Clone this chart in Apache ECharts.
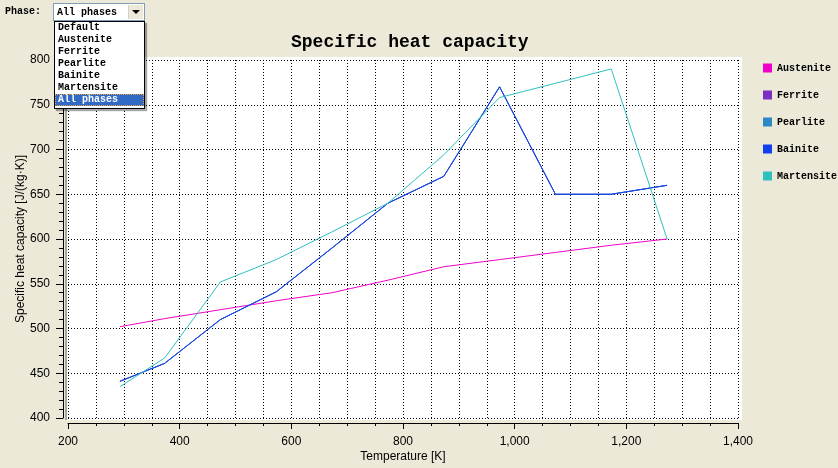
<!DOCTYPE html>
<html>
<head>
<meta charset="utf-8">
<script src="https://cdn.jsdelivr.net/npm/echarts@6/dist/echarts.min.js"></script>
<style>
  html, body { margin: 0; padding: 0; background: #ECE9D8; }
  .wrap { position: relative; width: 838px; height: 468px; overflow: hidden; }
  .plot-bg {
    position: absolute; left: 65px; top: 57px; width: 675px; height: 363px;
    background: #fff; border-left: 2px solid #A7A69C;
  }
  #chart { position: absolute; left: 0; top: 0; width: 838px; height: 468px; }
  .mono { font-family: "Liberation Mono", "DejaVu Sans Mono", monospace; font-size: 10px; font-weight: bold; color: #000; }
  .phase-label { position: absolute; left: 5px; top: 6px; }
  .select {
    position: absolute; left: 53px; top: 3px; width: 90px; height: 16px;
    background: #fff; border: 1px solid #7F9DB9;
  }
  .select .value { position: absolute; left: 3px; top: 3px; }
  .select .btn {
    position: absolute; right: 1px; top: 1px; width: 14px; height: 14px;
    background: #ECE9D8; border-left: 1px solid #D4D0C8;
  }
  .select .btn:after {
    content: ""; position: absolute; left: 3px; top: 5px;
    border-left: 4px solid transparent; border-right: 4px solid transparent; border-top: 4px solid #000;
  }
  .list {
    position: absolute; left: 54px; top: 21px; width: 89px; height: 86px;
    background: #fff; border: 1px solid #000; box-shadow: 2px 2px 1px rgba(0,0,0,0.35);
  }
  .list div { height: 12px; line-height: 12px; padding-left: 3px; }
  .list div.sel { background: #316AC5; color: #fff; outline: 1px dotted #E8A040; outline-offset: -1px; }
</style>
</head>
<body>
<div class="wrap">
  <div class="plot-bg"></div>
  <div id="chart"></div>
  <div class="mono phase-label">Phase:</div>
  <div class="select mono"><span class="value">All phases</span><span class="btn"></span></div>
  <div class="list mono" id="list"></div>
</div>
<script>
// temperatures [K]
const temps = [293, 373, 473, 573, 673, 773, 873, 973, 1073, 1173, 1273];
// specific heat capacity [J/(kg·K)]
const austenite  = [502, 511, 521, 531, 540, 554, 569, 577, 585, 593, 600];
const ferrite    = [441, 461, 510, 541, 590, 640, 670, 770, 650, 650, 660];
const pearlite   = [441, 461, 510, 541, 590, 640, 670, 770, 650, 650, 660];
const bainite    = [441, 461, 510, 541, 590, 640, 670, 770, 650, 650, 660];
const martensite = [435, 467, 552, 577, 608, 640, 694, 758, 774, 790, 600];

const phaseNames = ["Austenite", "Ferrite", "Pearlite", "Bainite", "Martensite"];
const phaseColors = ["#F000C8", "#7B30C0", "#2E88C4", "#1040F0", "#2EC0C0"];
const menuItems = ["Default", "Austenite", "Ferrite", "Pearlite", "Bainite", "Martensite", "All phases"];

const list = document.getElementById("list");
menuItems.forEach((m, i) => {
  const d = document.createElement("div");
  d.textContent = m;
  if (i === menuItems.length - 1) d.className = "sel";
  list.appendChild(d);
});

const seriesValues = [austenite, ferrite, pearlite, bainite, martensite];
const dotted = { color: "#000", width: 1, type: [1, 2] };
const labelFont = { color: "#000", fontFamily: "Liberation Sans, Arial", fontSize: 12 };

const chart = echarts.init(document.getElementById("chart"));

chart.setOption({
  backgroundColor: "transparent",
  animation: false,
  title: {
    text: "Specific heat capacity",
    left: 286,
    top: 28,
    textStyle: {
      fontFamily: "Liberation Mono",
      fontWeight: "bold",
      fontSize: 18,
      color: "#000",
    },
  },
  legend: {
    orient: "vertical",
    left: 758,
    top: 57,
    itemWidth: 9,
    itemHeight: 9,
    itemGap: 15,
    icon: "rect",
    data: phaseNames,
    textStyle: {
      fontFamily: "Liberation Mono",
      fontWeight: "bold",
      fontSize: 10,
      color: "#000",
      lineHeight: 12,
    },
  },
  grid: { left: 68, right: 100, top: 60, bottom: 50 },
  xAxis: {
    type: "value",
    min: 200,
    max: 1400,
    interval: 200,
    offset: 5,
    name: "Temperature [K]",
    nameLocation: "middle",
    nameGap: 28,
    nameMoveOverlap: false,
    nameTextStyle: labelFont,
    axisLine: { show: true, onZero: false, lineStyle: { color: "#000" } },
    axisTick: { show: true, length: 6, lineStyle: { color: "#000" } },
    minorTick: { show: true, splitNumber: 4, length: 3, lineStyle: { color: "#000" } },
    axisLabel: Object.assign({ margin: 13, formatter: (v) => v.toLocaleString("en-US") }, labelFont),
    splitLine: { show: true, lineStyle: dotted },
    minorSplitLine: { show: true, lineStyle: dotted },
  },
  yAxis: {
    type: "value",
    min: 400,
    max: 800,
    interval: 50,
    offset: 5,
    name: "Specific heat capacity [J/(kg·K)]",
    nameLocation: "middle",
    nameGap: 36,
    nameMoveOverlap: false,
    nameTextStyle: labelFont,
    axisLine: { show: true, onZero: false, lineStyle: { color: "#000" } },
    axisTick: { show: true, length: 7, lineStyle: { color: "#000" } },
    minorTick: { show: true, splitNumber: 5, length: 4, lineStyle: { color: "#000" } },
    axisLabel: Object.assign({ margin: 13 }, labelFont),
    splitLine: { show: true, lineStyle: dotted },
  },
  series: phaseNames.map((name, k) => ({
    name: name,
    type: "line",
    showSymbol: false,
    symbol: "none",
    color: phaseColors[k],
    lineStyle: { width: 1, color: phaseColors[k] },
    data: temps.map((t, i) => [t, seriesValues[k][i]]),
  })),
});
</script>
</body>
</html>
